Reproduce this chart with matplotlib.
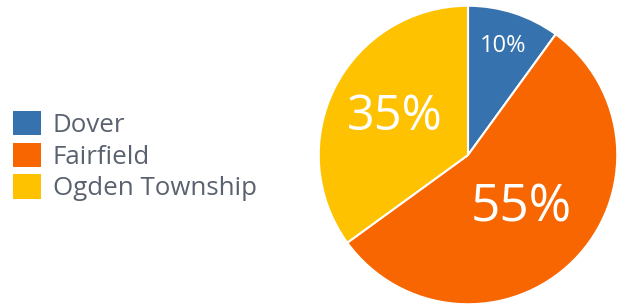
import matplotlib
matplotlib.use("Agg")
from matplotlib import pyplot as plt
from matplotlib.patches import Patch
import numpy as np

plt.rcParams['font.family'] = ['Open Sans', 'DejaVu Sans']

# data
towns = ["Dover", "Fairfield", "Ogden Township"]
shares = [10, 55, 35]
colors = ["#3672ae", "#f76600", "#fec200"]
label_sizes = [17, 37, 35]
label_radius = [0.77, 0.50, 0.55]

fig = plt.figure(figsize=(6.2, 3.06), dpi=100)
ax = fig.add_axes([318 / 620, 1 / 306, 300 / 620, 300 / 306])
wedges, _ = ax.pie(shares, colors=colors, startangle=90, counterclock=False,
                   radius=1, wedgeprops=dict(edgecolor="white", linewidth=1.5))
ax.set_xlim(-1.005, 1.005)
ax.set_ylim(-1.005, 1.005)
ax.set_aspect("equal")
ax.axis("off")

# percentage labels at each wedge's mid angle
for w, v, fs, r in zip(wedges, shares, label_sizes, label_radius):
    ang = np.deg2rad((w.theta1 + w.theta2) / 2)
    ax.text(r * np.cos(ang), r * np.sin(ang), f"{v}%", color="white",
            fontsize=fs, ha="center", va="center")

handles = [Patch(facecolor=c, edgecolor="none") for c in colors]
fig.legend(handles, towns, loc="center left", bbox_to_anchor=(0.021, 0.490),
           frameon=False, fontsize=18.6, labelcolor="#5a6270",
           handlelength=1.08, handleheight=1.08, handletextpad=0.45,
           labelspacing=0.18, borderpad=0, borderaxespad=0)

fig.savefig("out.png", dpi=100)
